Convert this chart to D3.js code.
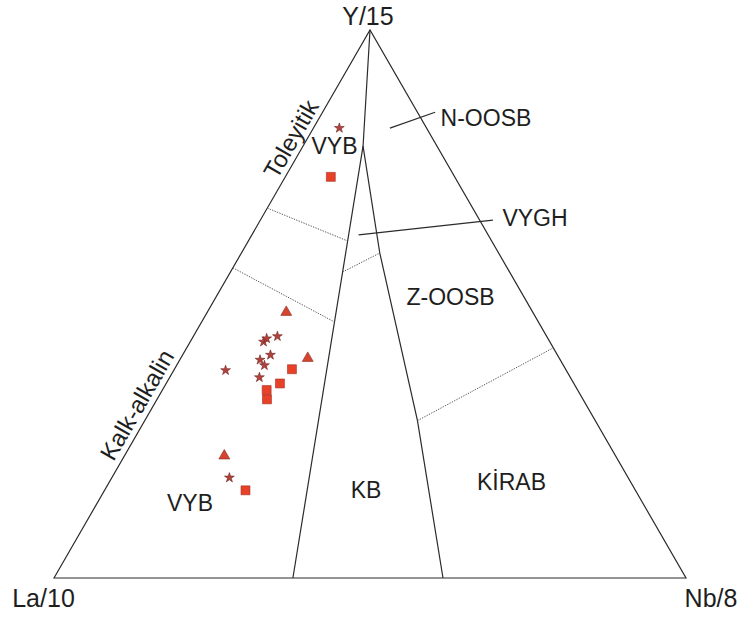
<!DOCTYPE html>
<html>
<head>
<meta charset="utf-8">
<script src="https://cdn.jsdelivr.net/npm/d3@7"></script>
<style>
  html, body { margin: 0; padding: 0; background: #ffffff; }
  svg { display: block; }
</style>
</head>
<body>
<svg id="chart" width="742" height="618"></svg>
<script>
// Compositions in percent, ordered [La/10, Y/15, Nb/8]

// Samples plotted as triangles
const triLa = [39.0, 39.8, 61.9];
const triY  = [48.5, 40.1, 22.3];
const triNb = [12.5, 20.1, 15.8];

// Samples plotted as stars
const starLa = [13.8, 45.3, 44.5, 42.6, 45.4, 47.5, 47.3, 53.9, 49.2, 63.1];
const starY  = [82.1, 43.1, 43.7, 44.1, 40.7, 39.8, 38.8, 37.9, 36.6, 18.3];
const starNb = [ 4.1, 11.6, 11.8, 13.3, 13.9, 12.7, 13.9,  8.2, 14.2, 18.6];

// Samples plotted as squares
const sqLa = [19.6, 43.3, 46.5, 49.2, 50.0, 61.7];
const sqY  = [73.2, 38.1, 35.5, 34.3, 32.6, 16.0];
const sqNb = [ 7.2, 18.6, 18.0, 16.5, 17.4, 22.3];

// Discrimination field boundaries (solid)
const solidBoundaries = [
  [[0, 100, 0], [11.7, 78.8, 9.5], [62.2, 0, 37.8]],
  [[11.7, 78.8, 9.5], [18.8, 59.3, 21.9], [28.25, 28.83, 43.33], [38.45, 0, 61.55]]
];

// Sub-field boundaries (dotted)
const dottedBoundaries = [
  [[32.5, 67.5, 0], [22.79, 61.5, 15.71]],
  [[43.4, 56.6, 0], [32.26, 46.72, 21.02]],
  [[26.41, 55.84, 17.75], [18.8, 59.3, 21.9]],
  [[28.25, 28.83, 43.33], [0, 42.0, 58.0]]
];

// Leader lines from field names to their fields
const leaderLines = [
  [[5.8, 82.1, 12.1], [-2.8, 85.0, 17.8]],
  [[20.5, 62.6, 16.9], [-2.1, 65.3, 36.8]]
];

// Corner, field and series names
const cornerNames = ["La/10", "Y/15", "Nb/8"];
const fieldNames = ["VYB", "N-OOSB", "VYGH", "Z-OOSB", "KB", "KİRAB", "VYB"];
const trendNames = ["Toleyitik", "Kalk-alkalin"];

// ---- drawing ----
const svg = d3.select("#chart");
const H = Math.sqrt(3) / 2;

// Plane coordinates: u runs along the La→Nb base, v is the Y height
const x = d3.scaleLinear().domain([0, 1]).range([54, 686]);
const y = d3.scaleLinear().domain([0, 1]).range([578, 30]);

function plane(p) {
  const s = p[0] + p[1] + p[2];
  const yy = p[1] / s, nb = p[2] / s;
  return [nb + yy / 2, yy];
}
function px(p) { const q = plane(p); return [x(q[0]), y(q[1])]; }

const line = d3.line().x(d => px(d)[0]).y(d => px(d)[1]);

const ink = "#2b2b2b";

// Outer triangle
svg.append("path")
  .attr("d", line([[100, 0, 0], [0, 100, 0], [0, 0, 100]]) + "Z")
  .attr("fill", "none").attr("stroke", ink).attr("stroke-width", 1.2)
  .attr("stroke-linejoin", "miter");

svg.selectAll("path.solid").data(solidBoundaries).join("path")
  .attr("class", "solid")
  .attr("d", line).attr("fill", "none")
  .attr("stroke", ink).attr("stroke-width", 1.2);

svg.selectAll("path.dotted").data(dottedBoundaries).join("path")
  .attr("class", "dotted")
  .attr("d", line).attr("fill", "none")
  .attr("stroke", "#555").attr("stroke-width", 1)
  .attr("stroke-dasharray", "1.3,1.3");

svg.selectAll("path.leader").data(leaderLines).join("path")
  .attr("class", "leader")
  .attr("d", line).attr("fill", "none")
  .attr("stroke", ink).attr("stroke-width", 1.2);

// Labels
const font = "'Liberation Sans', Arial, Helvetica, sans-serif";
function label(text, u, v, size, opts = {}) {
  const t = svg.append("text")
    .attr("font-family", font).attr("font-size", size)
    .attr("fill", "#1e1e1e")
    .attr("text-anchor", "middle")
    .text(text);
  if (opts.rotate) {
    t.attr("transform", `translate(${x(u)},${y(v)}) rotate(${opts.rotate})`)
     .attr("dy", "0.35em");
  } else {
    t.attr("x", x(u)).attr("y", y(v));
  }
  return t;
}

label(cornerNames[1], 0.4968, 1.0091, 25);
label(cornerNames[0], -0.0166, -0.0529, 25);
label(cornerNames[2], 1.0396, -0.0529, 25);

const fieldSpots = [
  [0.4438, 0.7737], [0.6835, 0.8248], [0.7611, 0.6423], [0.6274, 0.4982],
  [0.4937, 0.1460], [0.7239, 0.1606], [0.2152, 0.1223]
];
fieldNames.forEach((n, i) => label(n, fieldSpots[i][0], fieldSpots[i][1], 23));

label(trendNames[0], 0.375, 0.8011, 24, { rotate: -60 });
label(trendNames[1], 0.1313, 0.3157, 24, { rotate: -60 });

// Sample points
function rows(la, yy, nb) { return la.map((d, i) => [d, yy[i], nb[i]]); }

const series = [
  { pts: rows(triLa, triY, triNb),   type: d3.symbolTriangle, size: 52, fill: "#d4442e", stroke: "#8e2a1c" },
  { pts: rows(starLa, starY, starNb), type: d3.symbolStar,    size: 30, fill: "#b3423d", stroke: "#6e2420" },
  { pts: rows(sqLa, sqY, sqNb),       type: d3.symbolSquare,  size: 80, fill: "#e8412a", stroke: "#a22e1e" }
];

series.forEach(s => {
  svg.append("g").selectAll("path").data(s.pts).join("path")
    .attr("d", d3.symbol().type(s.type).size(s.size))
    .attr("transform", d => `translate(${px(d)[0]},${px(d)[1]})`)
    .attr("fill", s.fill).attr("stroke", s.stroke).attr("stroke-width", 0.6);
});
</script>
</body>
</html>
